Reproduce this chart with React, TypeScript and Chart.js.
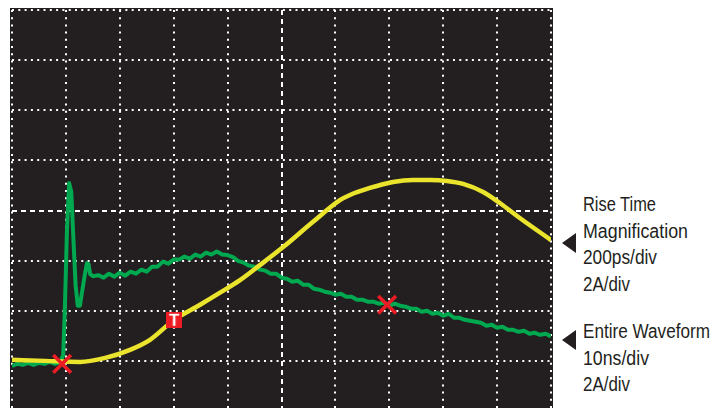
import React, { useEffect, useLayoutEffect, useRef } from "react";
import { Chart, registerables } from "chart.js";

Chart.register(...registerables);

// Entire waveform (green): time in divisions (10ns/div), current in divisions (2A/div)
const ewX = [
  0, 0.1, 0.2, 0.3, 0.4, 0.5, 0.6, 0.7, 0.8, 0.9, 0.95, 0.98, 1.02, 1.06, 1.1, 1.14, 1.18, 1.22, 1.26, 1.3,
  1.35, 1.39, 1.42, 1.45, 1.5, 1.6, 1.7, 1.8, 1.9, 2.0, 2.1, 2.2, 2.3, 2.4, 2.5, 2.6, 2.7, 2.8, 2.9, 3.0,
  3.1, 3.2, 3.3, 3.4, 3.5, 3.6, 3.7, 3.8, 3.9, 4.0, 4.1, 4.2, 4.3, 4.4, 4.5, 4.6, 4.7, 4.8, 4.9, 5.0,
  5.1, 5.2, 5.3, 5.4, 5.5, 5.6, 5.7, 5.8, 5.9, 6.0, 6.1, 6.2, 6.3, 6.4, 6.5, 6.6, 6.7, 6.8, 6.9, 7.0,
  7.1, 7.2, 7.3, 7.4, 7.5, 7.6, 7.7, 7.8, 7.9, 8.0, 8.1, 8.2, 8.3, 8.4, 8.5, 8.6, 8.7, 8.8, 8.9, 9.0,
  9.1, 9.2, 9.3, 9.4, 9.5, 9.6, 9.7, 9.8, 9.9, 10.0,
];
const ewY = [
  0.9, 0.94, 0.92, 0.96, 0.92, 0.96, 0.94, 0.98, 0.94, 0.98, 1.12, 2.02, 3.61, 4.55, 4.37, 3.41, 2.51, 2.1, 2.1, 2.38,
  2.71, 2.95, 2.93, 2.73, 2.69, 2.71, 2.66, 2.74, 2.68, 2.76, 2.7, 2.78, 2.74, 2.82, 2.78, 2.88, 2.88, 2.98, 2.94, 3.02,
  3.02, 3.08, 3.04, 3.12, 3.08, 3.16, 3.12, 3.18, 3.12, 3.11, 3.07, 2.99, 2.96, 2.9, 2.88, 2.82, 2.8, 2.74, 2.74, 2.66,
  2.64, 2.58, 2.6, 2.52, 2.52, 2.44, 2.42, 2.38, 2.36, 2.32, 2.34, 2.28, 2.28, 2.22, 2.22, 2.18, 2.18, 2.14, 2.16, 2.1,
  2.14, 2.1, 2.08, 2.04, 2.04, 1.98, 2.0, 1.94, 1.96, 1.9, 1.94, 1.86, 1.86, 1.82, 1.8, 1.78, 1.76, 1.7, 1.72, 1.66,
  1.68, 1.62, 1.62, 1.58, 1.6, 1.54, 1.56, 1.52, 1.54, 1.49,
];

// Rise time magnification (yellow): 200ps/div, 2A/div
const rtX = [0, 0.61, 1.26, 1.73, 2.19, 2.56, 3.01, 3.49, 3.86, 4.23, 4.6, 5.03, 5.58, 6.09, 6.27, 6.64, 7.07, 7.44, 7.76, 8.07, 8.37, 8.74, 9.05, 9.42, 10.0];
const rtY = [1.02, 1.0, 0.98, 1.06, 1.22, 1.42, 1.82, 2.12, 2.36, 2.61, 2.91, 3.27, 3.77, 4.21, 4.31, 4.45, 4.57, 4.61, 4.61, 4.59, 4.53, 4.37, 4.15, 3.85, 3.41];

// Markers
const crossX = [0.93, 6.96];
const crossY = [0.94, 2.12];
const triggerX = [3.01];
const triggerY = [1.82];
const triggerLabel = "T";

// Graticule divisions
const xDivisions = [0, 1, 2, 3, 4, 5, 6, 7, 8, 9, 10];
const yDivisions = [0, 1, 2, 3, 4, 5, 6, 7, 8];
const xCenter = 5;
const yCenter = 4;

const riseLabel = ["Rise Time", "Magnification", "200ps/div", "2A/div"];
const entireLabel = ["Entire Waveform", "10ns/div", "2A/div"];
// rendered widths of the condensed labels (px)
const riseWidths = [73, 105, 74, 47];
const entireWidths = [127, 66, 47];

const BG = "#231f20";
const GREEN = "#00a84f";
const YELLOW = "#ebe42c";
const RED = "#ec1c24";
const INK = "#231f20";

const scopeGrid = {
  id: "scopeGrid",
  beforeDatasetsDraw(chart: any) {
    const { ctx, chartArea: a, scales } = chart;
    ctx.save();
    ctx.fillStyle = BG;
    ctx.fillRect(a.left - 2, a.top - 2, a.right - a.left + 4, a.bottom - a.top + 4);
    ctx.strokeStyle = "#ffffff";
    ctx.lineWidth = 2;
    xDivisions.forEach((v) => {
      const x = Math.round(scales.x.getPixelForValue(v));
      ctx.setLineDash(v === xCenter ? [5, 4] : [2, 5.2]);
      ctx.beginPath();
      ctx.moveTo(x, a.top);
      ctx.lineTo(x, a.bottom);
      ctx.stroke();
    });
    yDivisions.forEach((v) => {
      const y = Math.round(scales.y.getPixelForValue(v));
      ctx.setLineDash(v === yCenter ? [5, 4] : [2, 4.3]);
      ctx.beginPath();
      ctx.moveTo(a.left, y);
      ctx.lineTo(a.right, y);
      ctx.stroke();
    });
    ctx.restore();
  },
};

function makeTriggerIcon(): HTMLCanvasElement {
  const c = document.createElement("canvas");
  c.width = 16;
  c.height = 16;
  const g = c.getContext("2d")!;
  g.fillStyle = RED;
  g.fillRect(0, 0, 16, 16);
  g.fillStyle = "#ffffff";
  g.font = "bold 17px 'Liberation Sans', Arial, sans-serif";
  g.textAlign = "center";
  g.textBaseline = "middle";
  g.fillText(triggerLabel, 8, 9);
  return c;
}

function FitLine({ text, width }: { text: string; width: number }) {
  const ref = useRef<HTMLSpanElement | null>(null);
  useLayoutEffect(() => {
    const el = ref.current;
    if (!el) return;
    el.style.transform = "none";
    const w = el.getBoundingClientRect().width;
    if (w > 0) el.style.transform = `scaleX(${width / w})`;
  }, [text, width]);
  return (
    <div>
      <span ref={ref} style={{ display: "inline-block", transformOrigin: "0 0" }}>
        {text}
      </span>
    </div>
  );
}

export default function App() {
  const ref = useRef<HTMLCanvasElement | null>(null);

  useEffect(() => {
    if (!ref.current) return;
    const chart = new Chart(ref.current, {
      type: "scatter",
      data: {
        datasets: [
          {
            label: "cross",
            data: crossX.map((x, i) => ({ x, y: crossY[i] })),
            pointStyle: "crossRot",
            pointRadius: 12.5,
            borderColor: RED,
            backgroundColor: RED,
            borderWidth: 3.5,
            showLine: false,
            order: 0,
            clip: false,
          } as any,
          {
            label: "trigger",
            data: triggerX.map((x, i) => ({ x, y: triggerY[i] })),
            pointStyle: makeTriggerIcon(),
            pointRadius: 8,
            showLine: false,
            order: 0,
            clip: false,
          } as any,
          {
            label: "Rise Time Magnification",
            data: rtX.map((x, i) => ({ x, y: rtY[i] })),
            showLine: true,
            borderColor: YELLOW,
            borderWidth: 4.5,
            pointRadius: 0,
            cubicInterpolationMode: "monotone",
            borderJoinStyle: "round",
            order: 1,
          } as any,
          {
            label: "Entire Waveform",
            data: ewX.map((x, i) => ({ x, y: ewY[i] })),
            showLine: true,
            borderColor: GREEN,
            borderWidth: 4,
            pointRadius: 0,
            tension: 0,
            borderJoinStyle: "round",
            order: 2,
          } as any,
        ],
      },
      options: {
        responsive: false,
        animation: false,
        devicePixelRatio: 1,
        events: [],
        layout: { autoPadding: false, padding: { left: 12, right: 9, top: 10, bottom: 1 } },
        plugins: { legend: { display: false }, tooltip: { enabled: false } },
        scales: {
          x: { type: "linear", min: 0, max: 10, display: false },
          y: { type: "linear", min: 0, max: 8, display: false },
        },
      },
      plugins: [scopeGrid],
    });
    return () => chart.destroy();
  }, []);

  const textStyle: React.CSSProperties = {
    position: "absolute",
    left: 583,
    fontFamily: "'Liberation Sans', Arial, sans-serif",
    fontSize: 20,
    lineHeight: "26.7px",
    color: INK,
    whiteSpace: "nowrap",
  };
  const tri = (top: number): React.CSSProperties => ({
    position: "absolute",
    left: 562,
    top,
    width: 0,
    height: 0,
    borderTop: "10.5px solid transparent",
    borderBottom: "10.5px solid transparent",
    borderRight: `14px solid ${INK}`,
  });

  return (
    <div style={{ position: "absolute", left: 0, top: 0, width: 713, height: 408, overflow: "hidden", background: "#fff" }}>
      <canvas ref={ref} width={560} height={412} style={{ position: "absolute", left: 0, top: 0 }} />
      <div style={tri(233)} />
      <div style={tri(330)} />
      <div style={{ ...textStyle, top: 191 }}>
        {riseLabel.map((t, i) => (
          <FitLine key={i} text={t} width={riseWidths[i]} />
        ))}
      </div>
      <div style={{ ...textStyle, top: 318 }}>
        {entireLabel.map((t, i) => (
          <FitLine key={i} text={t} width={entireWidths[i]} />
        ))}
      </div>
    </div>
  );
}
